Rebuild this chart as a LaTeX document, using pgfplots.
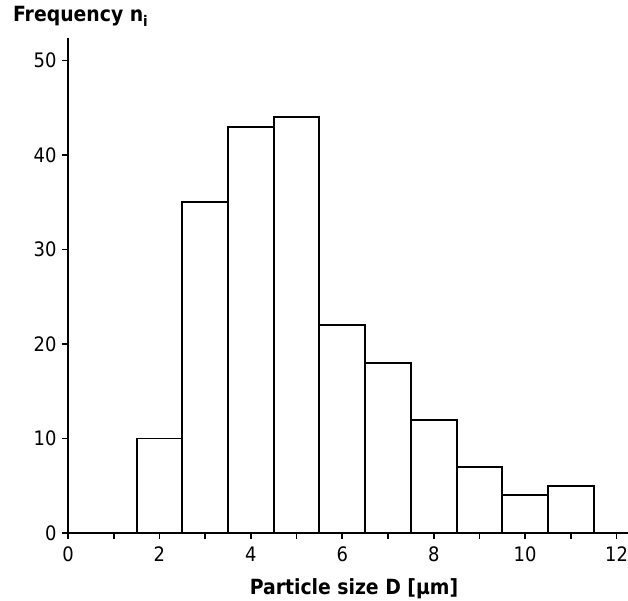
\documentclass[border=0pt]{standalone}
\usepackage{pgfplots}
\pgfplotsset{compat=1.18}
\usepackage{fontspec}
\setmainfont{DejaVu Sans Condensed}
\begin{document}
\begin{tikzpicture}
\path[use as bounding box] (-68bp,-68bp) rectangle (560bp,533bp);
\begin{axis}[
  at={(0,0)}, anchor=south west,
  scale only axis, width=560bp, height=495bp,
  xmin=0, xmax=12.25, ymin=0, ymax=52.4,
  axis lines=left,
  axis line style={-, line width=1.7bp},
  xtick={0,2,...,12}, minor xtick={1,3,...,11},
  ytick={0,10,...,50},
  tick align=outside,
  major tick length=6bp, minor tick length=6bp,
  every tick/.style={black, line width=1.6bp},
  /pgf/number format/assume math mode=true,
  tick label style={font=\fontsize{20}{23}\selectfont},
  xticklabel style={yshift=-4bp},
  yticklabel style={xshift=-2bp},
  xlabel={\bfseries Particle size D [µm]},
  xlabel style={font=\fontsize{21}{24}\selectfont, yshift=-10bp, xshift=6bp},
  clip=false,
]
\addplot[ybar interval, fill=white, draw=black, line width=1.9bp] coordinates {
  (1.5,10) (2.5,35) (3.5,43) (4.5,44) (5.5,22) (6.5,18) (7.5,12) (8.5,7) (9.5,4) (10.5,5) (11.5,5)
};
\end{axis}
\node[anchor=base west, font=\fontsize{21}{24}\selectfont\bfseries, inner sep=0pt] at (-55bp,511bp) {Frequency n\textsubscript{i}};
\end{tikzpicture}
\end{document}
